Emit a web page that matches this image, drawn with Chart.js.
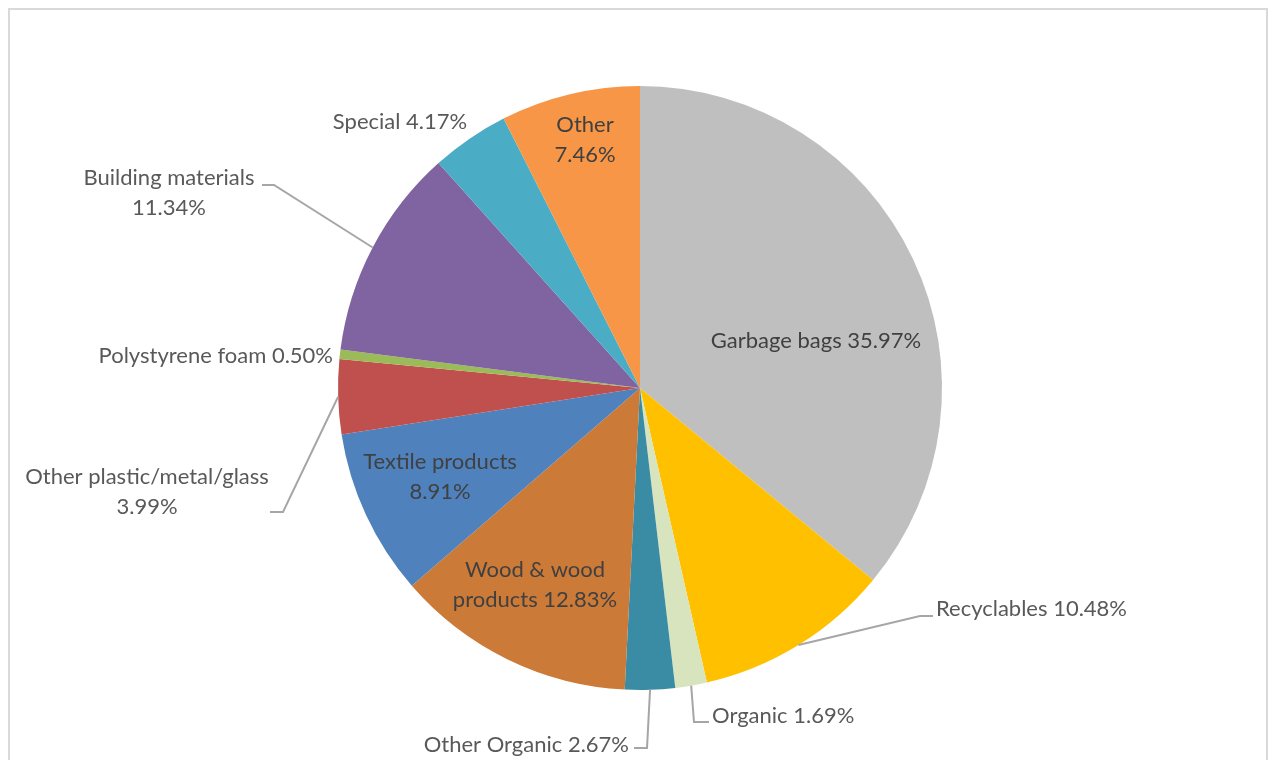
<!DOCTYPE html>
<html>
<head>
<meta charset="utf-8">
<script src="https://cdn.jsdelivr.net/npm/chart.js@4.4.1/dist/chart.umd.min.js"></script>
<style>
  html, body { margin: 0; padding: 0; background: #fff; overflow: hidden; }
  #wrap { position: relative; width: 1272px; height: 760px; }
  #frame {
    position: absolute; left: 8px; top: 8px; width: 1260px; height: 800px;
    border: 2px solid #d9d9d9; box-sizing: border-box;
  }
  canvas { position: absolute; left: 0; top: 0; }
</style>
</head>
<body>
<div id="wrap">
  <div id="frame"></div>
  <canvas id="pie" width="1272" height="760"></canvas>
</div>
<script>
// Waste composition (share of total, %), clockwise from 12 o'clock
const categories = [
  'Garbage bags', 'Recyclables', 'Organic', 'Other Organic',
  'Wood & wood products', 'Textile products', 'Other plastic/metal/glass',
  'Polystyrene foam', 'Building materials', 'Special', 'Other',
];
const shares = [35.97, 10.48, 1.69, 2.67, 12.83, 8.91, 3.99, 0.50, 11.34, 4.17, 7.46];
const sliceColors = [
  '#bfbfbf', '#ffc000', '#d7e4bd', '#3a8ca4', '#cc7a38', '#4f81bd',
  '#c0504d', '#9bbb59', '#8064a2', '#4bacc6', '#f79646',
];

// where each data label sits (text only; leader lines start on the slice edge)
const labelLayout = [
  { x: 816, y: 341, align: 'center', inside: true },
  { x: 936, y: 609, align: 'left', elbow: [920, 616], end: [933, 616] },
  { x: 712, y: 716, align: 'left', elbow: [694, 722], end: [709, 722] },
  { x: 629, y: 745, align: 'right', elbow: [647, 748], end: [634, 748] },
  { x: 535, y: 570, align: 'center', inside: true, breakAfter: 3 },
  { x: 440, y: 462, align: 'center', inside: true, breakAfter: 2 },
  { x: 147, y: 477, align: 'center', breakAfter: 2, elbow: [283, 512], end: [270, 512] },
  { x: 333, y: 356, align: 'right' },
  { x: 169, y: 178, align: 'center', breakAfter: 2, elbow: [274, 185], end: [262, 185] },
  { x: 400, y: 122, align: 'center' },
  { x: 585, y: 125, align: 'center', inside: true, breakAfter: 1 },
];

const FONT = '22px Lato, "Open Sans", sans-serif';
const LINE_GAP = 30;

function labelLines(i) {
  const words = `${categories[i]} ${shares[i].toFixed(2)}%`.split(' ');
  const n = labelLayout[i].breakAfter;
  if (!n) return [words.join(' ')];
  return [words.slice(0, n).join(' '), words.slice(n).join(' ')];
}

const pieLabels = {
  id: 'pieLabels',
  afterDatasetsDraw(chart) {
    const { ctx } = chart;
    const arcs = chart.getDatasetMeta(0).data;
    ctx.save();
    arcs.forEach((arc, i) => {
      const spot = labelLayout[i];
      if (spot.elbow) {
        const mid = (arc.startAngle + arc.endAngle) / 2;
        const sx = arc.x + Math.cos(mid) * arc.outerRadius;
        const sy = arc.y + Math.sin(mid) * arc.outerRadius;
        ctx.beginPath();
        ctx.moveTo(sx, sy);
        ctx.lineTo(spot.elbow[0], spot.elbow[1]);
        ctx.lineTo(spot.end[0], spot.end[1]);
        ctx.strokeStyle = '#a6a6a6';
        ctx.lineWidth = 2;
        ctx.stroke();
      }
      ctx.font = FONT;
      ctx.fillStyle = spot.inside ? '#404040' : '#595959';
      ctx.textAlign = spot.align;
      ctx.textBaseline = 'middle';
      labelLines(i).forEach((line, k) => {
        ctx.fillText(line, spot.x, spot.y + k * LINE_GAP);
      });
    });
    ctx.restore();
  },
};

new Chart(document.getElementById('pie'), {
  type: 'pie',
  data: {
    labels: categories,
    datasets: [{
      data: shares,
      backgroundColor: sliceColors,
      borderWidth: 0,
      hoverOffset: 0,
    }],
  },
  options: {
    responsive: false,
    animation: false,
    devicePixelRatio: 1,
    layout: { padding: { top: 86, bottom: 70, left: 8, right: 0 } },
    plugins: {
      legend: { display: false },
      tooltip: { enabled: false },
    },
  },
  plugins: [pieLabels],
});
</script>
</body>
</html>
